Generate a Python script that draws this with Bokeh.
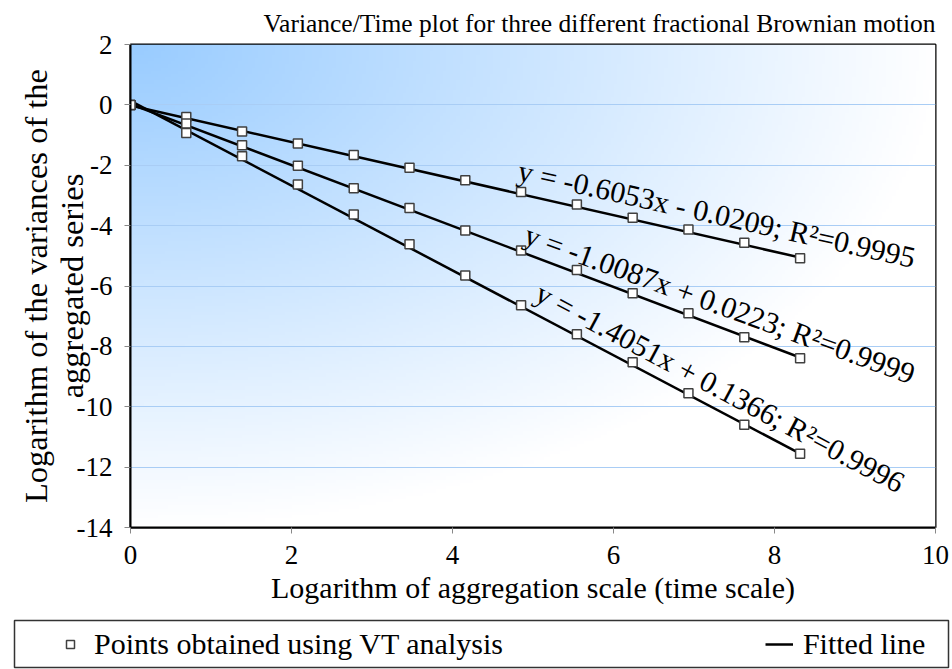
import numpy as np
from bokeh.plotting import figure
from bokeh.layouts import column
from bokeh.models import Legend, LegendItem, Label, Range1d, FixedTicker
from bokeh.embed import file_html
from bokeh.resources import INLINE

# ---------------- data ----------------
log_scale = [0.0, 0.693, 1.386, 2.079, 2.773, 3.466, 4.159, 4.852, 5.545, 6.238, 6.931, 7.625, 8.318]
var_fbm1 = [0.0, -0.40, -0.88, -1.28, -1.66, -2.08, -2.50, -2.89, -3.30, -3.74, -4.13, -4.57, -5.08]
var_fbm2 = [0.0, -0.62, -1.34, -2.02, -2.76, -3.42, -4.16, -4.82, -5.47, -6.24, -6.90, -7.70, -8.39]
var_fbm3 = [0.0, -0.93, -1.70, -2.64, -3.63, -4.62, -5.65, -6.64, -7.60, -8.53, -9.55, -10.60, -11.56]
slopes = [-0.6053, -1.0087, -1.4051]
intercepts = [-0.0209, 0.0223, 0.1366]
r_squared = [0.9995, 0.9999, 0.9996]
x_ticks = [0, 2, 4, 6, 8, 10]
y_ticks = [-14, -12, -10, -8, -6, -4, -2, 0, 2]
legend_labels = ["Points obtained using VT analysis", "Fitted line"]

FONT = "Liberation Serif"
MARKER = dict(marker="square", size=9, fill_color="white", line_color="#404040", line_width=1.5)
FITLINE = dict(line_color="black", line_width=2.5)

p = figure(width=950, height=614, output_backend="svg", toolbar_location=None,
           x_range=Range1d(0, 10), y_range=Range1d(-14, 2),
           min_border_left=130, min_border_right=15, min_border_top=43, min_border_bottom=87,
           title="Variance/Time plot for three different fractional Brownian motion")
p.frame_align = False
p.background_fill_color = "white"
p.border_fill_color = "white"
p.outline_line_color = "black"
p.outline_line_width = 2

p.title.text_font = FONT
p.title.text_font_size = "25.5px"
p.title.text_font_style = "normal"
p.title.text_color = "black"
p.title.align = "right"
p.title.standoff = 13

# gradient background of the plot area (radial from top-left corner)
nx, ny = 240, 150
fx = np.linspace(0, 1, nx)[None, :]
fy = np.linspace(1, 0, ny)[:, None]
t = np.clip(np.sqrt(fx ** 2 + fy ** 2), 0, 1)
img = np.empty((ny, nx), dtype=np.uint32)
view = img.view(dtype=np.uint8).reshape((ny, nx, 4))
view[..., 0] = (153 + (255 - 153) * t).astype(np.uint8)
view[..., 1] = (204 + (255 - 204) * t).astype(np.uint8)
view[..., 2] = 255
view[..., 3] = 255
p.image_rgba(image=[img], x=0, y=-14, dw=10, dh=16, level="image")

# axes
p.xaxis.ticker = FixedTicker(ticks=x_ticks)
p.yaxis.ticker = FixedTicker(ticks=y_ticks)
p.yaxis.major_label_overrides = {v: str(v) for v in y_ticks}
for ax in (p.xaxis[0], p.yaxis[0]):
    ax.axis_line_color = "black"
    ax.axis_line_width = 2
    ax.major_tick_line_color = "#888888"
    ax.major_tick_in = 0
    ax.major_tick_out = 6
    ax.minor_tick_line_color = None
    ax.major_label_text_font = FONT
    ax.major_label_text_font_size = "27px"
    ax.major_label_text_color = "black"
    ax.major_label_standoff = 12
    ax.axis_label_text_font = FONT
    ax.axis_label_text_font_size = "30px"
    ax.axis_label_text_font_style = "normal"
    ax.axis_label_text_color = "black"
p.xaxis.axis_label = "Logarithm of aggregation scale (time scale)"
p.xaxis.axis_label_standoff = 4
p.yaxis.axis_label = "Logarithm of the variances of the\naggregated series"
p.yaxis.axis_label_text_font_size = "32.5px"
p.yaxis.axis_label_text_line_height = 1.0
p.yaxis.axis_label_standoff = -16

p.xgrid.visible = False
p.ygrid.grid_line_color = "#a9cdf5"
p.ygrid.grid_line_width = 1

# fitted lines + points
series = [var_fbm1, var_fbm2, var_fbm3]
for s, b in zip(slopes, intercepts):
    xs_fit = [log_scale[0], log_scale[-1]]
    ys_fit = [s * xx + b for xx in xs_fit]
    p.line(xs_fit, ys_fit, **FITLINE)
for ys in series:
    p.scatter(log_scale, ys, **MARKER)

# equation labels
label_pos = [(4.82, -2.15), (4.91, -4.25), (5.06, -6.15)]
label_angle = [-12.5, -20.0, -28.0]
for s, b, r2, (lx, ly), ang in zip(slopes, intercepts, r_squared, label_pos, label_angle):
    sign = "-" if b < 0 else "+"
    txt = f"y = {s:.4f}x {sign} {abs(b):.4f}; R\u00b2={r2:.4f}"
    p.add_layout(Label(x=lx, y=ly, text=txt, angle=ang, angle_units="deg",
                       text_font=FONT, text_font_size="30px", text_color="black",
                       text_align="left", text_baseline="alphabetic"))

# ---------------- legend strip below the chart ----------------
lg = figure(width=950, height=55, output_backend="svg", toolbar_location=None,
            x_range=Range1d(0, 1), y_range=Range1d(0, 1),
            min_border_left=14, min_border_right=2, min_border_top=6, min_border_bottom=2,
            x_axis_type=None, y_axis_type=None)
lg.frame_align = False
lg.xgrid.visible = False
lg.ygrid.visible = False
lg.outline_line_color = "#333333"
lg.outline_line_width = 1.5
lg.background_fill_color = "white"
lg.border_fill_color = "white"
# legend proxies: same styles as the chart marks, placed outside the visible range
r_pts = lg.scatter(x=[-5], y=[-5], **MARKER)
r_fit = lg.line(x=[-5, -4], y=[-5, -5], **FITLINE)
legend = Legend(items=[LegendItem(label=legend_labels[0], renderers=[r_pts]),
                       LegendItem(label=legend_labels[1], renderers=[r_fit])],
                location=(36, 0), orientation="horizontal", padding=6, margin=0,
                spacing=262, glyph_width=28, glyph_height=20, label_standoff=10,
                label_text_font=FONT, label_text_font_size="30px", label_text_color="black",
                border_line_alpha=0, background_fill_alpha=0)
lg.add_layout(legend, "center")

layout = column(p, lg, spacing=0)
open("out.html", "w").write(file_html(layout, INLINE))
